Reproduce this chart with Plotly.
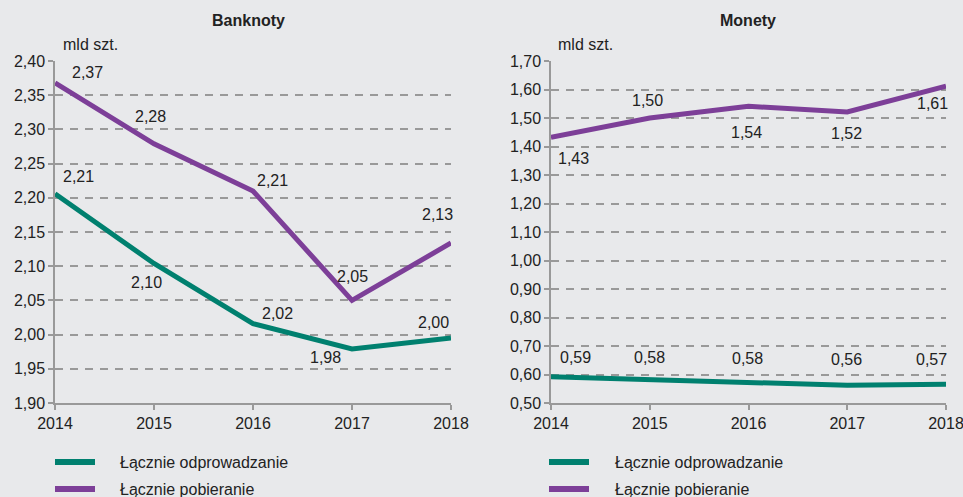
import plotly.graph_objects as go

years = [2014, 2015, 2016, 2017, 2018]
series_names = ["Łącznie odprowadzanie", "Łącznie pobieranie"]
colors = ["#00806F", "#7D3F98"]

bank_odpr = [2.206, 2.104, 2.016, 1.979, 1.995]
bank_pob = [2.368, 2.279, 2.210, 2.050, 2.134]
mon_odpr = [0.592, 0.582, 0.576, 0.562, 0.566]
mon_pob = [1.432, 1.500, 1.541, 1.521, 1.612]

bank_ticks = [1.90, 1.95, 2.00, 2.05, 2.10, 2.15, 2.20, 2.25, 2.30, 2.35, 2.40]
mon_ticks = [0.50, 0.60, 0.70, 0.80, 0.90, 1.00, 1.10, 1.20, 1.30, 1.40, 1.50, 1.60, 1.70]

# label offsets (pixels): dx, dy(up)
bank_odpr_off = [(23, 17), (-8, -19), (24, 10), (-27, -9), (-18, 16)]
bank_pob_off = [(32, 10), (-4, 27), (19, 10), (0, 24), (-14, 28)]
mon_odpr_off = [(24, 19), (0, 22), (-1, 23), (-1, 26), (-15, 25)]
mon_pob_off = [(22, -21), (-2, 18), (-2, -26), (-1, -21), (-14, -17)]

FONT = "Liberation Sans Narrow, Arial Narrow, Liberation Sans, Arial, sans-serif"
TXT = "#222222"
BG = "#E8E9EB"
GRID = "#999999"

fig = go.Figure()
panels = [
    ("x", "y", [bank_odpr, bank_pob], [bank_odpr_off, bank_pob_off]),
    ("x2", "y2", [mon_odpr, mon_pob], [mon_odpr_off, mon_pob_off]),
]
annotations = []
for xa, ya, vals, offs in panels:
    for i, (v, off) in enumerate(zip(vals, offs)):
        fig.add_trace(go.Scatter(
            x=years, y=v, xaxis=xa, yaxis=ya, mode="lines",
            line=dict(color=colors[i], width=5), name=series_names[i],
            showlegend=False, hoverinfo="skip", cliponaxis=False))
        for yr, val, (dx, dy) in zip(years, v, off):
            annotations.append(dict(
                x=yr, y=val, xref=xa, yref=ya, text=f"{val:.2f}".replace(".", ","),
                showarrow=False, xshift=dx, yshift=dy, xanchor="center", yanchor="middle",
                font=dict(family=FONT, size=16, color=TXT)))

axis_common = dict(
    showline=True, linecolor=GRID, linewidth=1.5,
    ticks="outside", ticklen=5, tickcolor=GRID, tickwidth=1.5,
    tickfont=dict(family=FONT, size=16, color=TXT), zeroline=False,
    automargin=False, ticklabeloverflow="allow",
)
xdom1 = [55 / 963, 451 / 963]
xdom2 = [551 / 963, 946 / 963]
ydom = [(497 - 403) / 497, (497 - 61) / 497]

fig.update_layout(
    width=963, height=497,
    margin=dict(l=0, r=0, t=0, b=0, autoexpand=False),
    paper_bgcolor=BG, plot_bgcolor=BG,
    separators=", ",
    xaxis=dict(domain=xdom1, range=[2014, 2018], tickvals=years, showgrid=False,
               anchor="y", **axis_common),
    yaxis=dict(domain=ydom, range=[1.90, 2.40], tickvals=bank_ticks, tickformat=".2f",
               showgrid=True, gridcolor=GRID, griddash="8px,7px", gridwidth=1.5,
               anchor="x", **axis_common),
    xaxis2=dict(domain=xdom2, range=[2014, 2018], tickvals=years, showgrid=False,
                anchor="y2", **axis_common),
    yaxis2=dict(domain=ydom, range=[0.50, 1.70], tickvals=mon_ticks, tickformat=".2f",
                showgrid=True, gridcolor=GRID, griddash="8px,7px", gridwidth=1.5,
                anchor="x2", **axis_common),
)

def pa(x, y, text, xanchor="center"):
    return dict(x=x / 963, y=1 - y / 497, xref="paper", yref="paper", text=text,
                showarrow=False, xanchor=xanchor, yanchor="middle",
                font=dict(family=FONT, size=16, color=TXT))

annotations += [
    pa(248, 20, "<b>Banknoty</b>"),
    pa(748, 20, "<b>Monety</b>"),
    pa(61, 44, "mld szt.", "left"),
    pa(556, 44, "mld szt.", "left"),
]

# legends (manual)
shapes = []
for x0, xt in [(55, 118), (549, 613)]:
    for i, yy in enumerate([462, 489]):
        shapes.append(dict(type="line", xref="paper", yref="paper",
                           x0=x0 / 963, x1=(x0 + 40) / 963,
                           y0=1 - yy / 497, y1=1 - yy / 497,
                           line=dict(color=colors[i], width=6)))
        annotations.append(pa(xt, yy, series_names[i], "left"))

fig.update_layout(annotations=annotations, shapes=shapes)
fig.write_html("out.html", config={"displayModeBar": False},
               post_script="document.body.style.margin='0';document.body.style.overflow='hidden';")
